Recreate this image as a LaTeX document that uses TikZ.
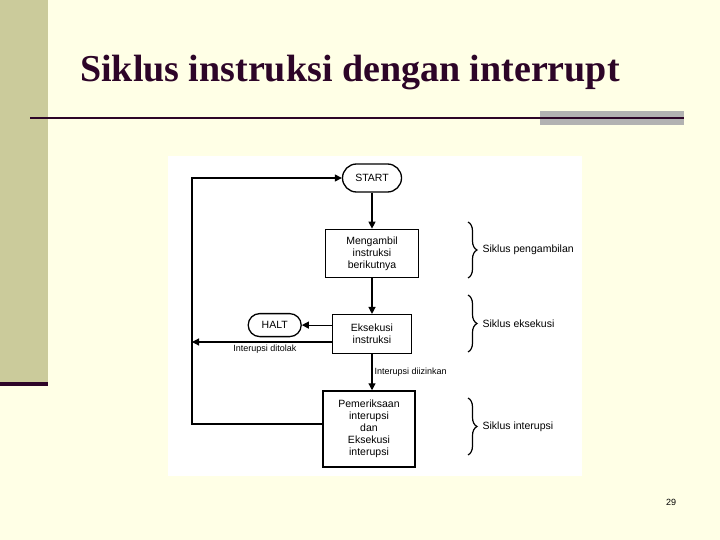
\documentclass[tikz,border=0pt]{standalone}
\usepackage{fontspec}
\setmainfont{Liberation Serif}
\setsansfont{Liberation Sans}
\usetikzlibrary{arrows.meta,shapes.misc,positioning,decorations.pathreplacing}
\definecolor{slidebg}{RGB}{255,255,230}
\definecolor{slidebar}{RGB}{203,203,155}
\definecolor{slidedark}{RGB}{45,5,40}
\definecolor{slidegray}{RGB}{178,178,178}

\begin{document}
\begin{tikzpicture}[x=1pt,y=-1pt,
    node distance=36pt and 30pt,
    box/.style={rectangle,draw=black,fill=white,line width=1.3pt,
                font=\fontsize{10.5}{12}\selectfont\sffamily,align=center,inner sep=2pt},
    term/.style={box,rounded rectangle,rounded rectangle arc length=180},
    lbl/.style={font=\fontsize{9}{11}\selectfont\sffamily,inner sep=2pt},
    ar/.style={-{Triangle[length=7pt,width=7pt]},line width=1.2pt},
    brc/.style={decorate,decoration={brace,amplitude=9pt},line width=1.2pt}
  ]
  % slide background
  \fill[slidebg] (0,0) rectangle (720,540);
  \fill[slidebar] (0,0) rectangle (48,382);
  \fill[slidedark] (0,382) rectangle (48,386);
  \node[anchor=base west,inner sep=0pt,text=slidedark,
        font=\fontsize{38}{44}\selectfont\rmfamily\bfseries] (title) at (80,82) {Siklus instruksi dengan interrupt};
  \fill[slidegray] (540,111) rectangle (684,125);
  \draw[slidedark,line width=2pt] (30,118) -- (684,118);
  \fill[white] (168,156) rectangle (582,476);

  % flowchart
  \node[term,minimum width=63pt,minimum height=28pt] (start) at (372,178) {START};
  \node[box,minimum width=93pt,minimum height=48pt,below=of start] (fetch) {Mengambil\\instruksi\\berikutnya};
  \node[box,minimum width=79pt,minimum height=39pt,below=of fetch] (exec) {Eksekusi\\instruksi};
  \node[term,minimum width=57pt,minimum height=23pt,left=of exec,yshift=9pt] (halt) {HALT};
  \node[box,minimum width=92pt,minimum height=76pt,below=of exec,xshift=-3pt] (intr) {Pemeriksaan\\interupsi\\dan\\Eksekusi\\interupsi};
  \coordinate (back) at (192,342);

  \draw[ar] (start.south) -- (fetch.north);
  \draw[ar] (fetch.south) -- (exec.north);
  \draw[ar] (exec.west |- halt.east) -- (halt.east);
  \draw[ar] (exec.west |- back) -- (back) node[lbl,midway,below,xshift=3pt] (lbno) {Interupsi ditolak};
  \draw[ar] (exec.south) -- (exec.south |- intr.north) node[lbl,midway,right] (lbyes) {Interupsi diizinkan};
  \draw[ar] ([yshift=5pt]intr.west) -- ([yshift=5pt]intr.west -| back) |- (start.west);

  % phases
  \draw[brc] (468,222) -- (468,278) node[box,draw=none,fill=none,midway,anchor=west,xshift=12pt] (ph1) {Siklus pengambilan};
  \draw[brc] (468,295) -- (468,352) node[box,draw=none,fill=none,midway,anchor=west,xshift=12pt] (ph2) {Siklus eksekusi};
  \draw[brc] (468,398) -- (468,455) node[box,draw=none,fill=none,midway,anchor=west,xshift=12pt] (ph3) {Siklus interupsi};

  \node[lbl] (pagenum) at (671,502) {29};
\end{tikzpicture}
\end{document}
